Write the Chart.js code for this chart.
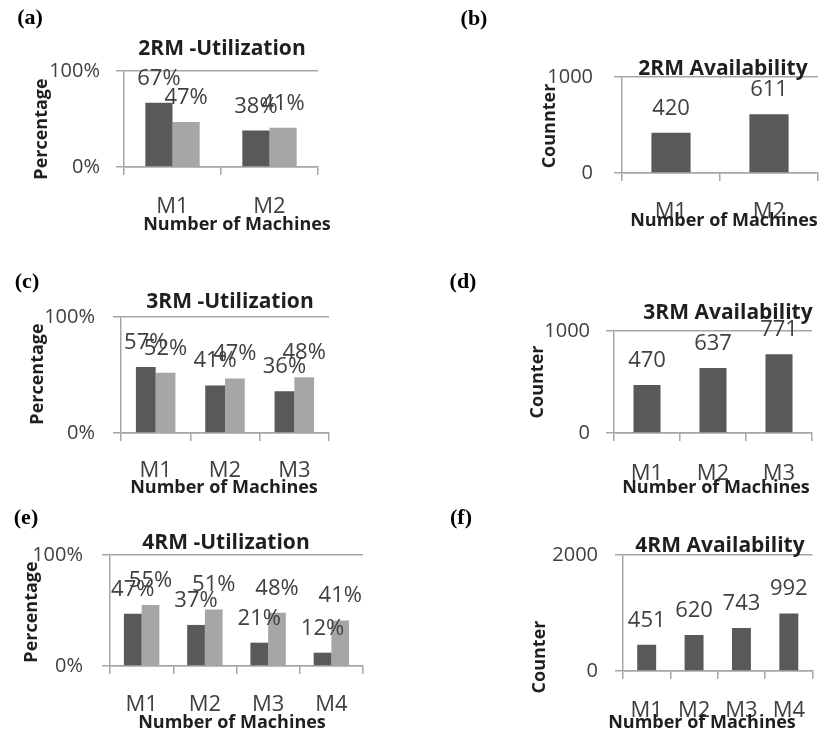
<!DOCTYPE html>
<html>
<head>
<meta charset="utf-8">
<script src="https://cdn.jsdelivr.net/npm/chart.js@4.4.1/dist/chart.umd.min.js"></script>
<style>
    body { margin: 0; background: #fff; }
    #wrap { position: relative; width: 824px; height: 734px; }
    #wrap canvas { position: absolute; left: 0; top: 0; }
</style>
</head>
<body>
<div id="wrap">
    <canvas id="chart-a" width="824" height="734"></canvas>
    <canvas id="chart-b" width="824" height="734"></canvas>
    <canvas id="chart-c" width="824" height="734"></canvas>
    <canvas id="chart-d" width="824" height="734"></canvas>
    <canvas id="chart-e" width="824" height="734"></canvas>
    <canvas id="chart-f" width="824" height="734"></canvas>
</div>
<script>
// Categories
const machines2 = ['M1', 'M2'];
const machines3 = ['M1', 'M2', 'M3'];
const machines4 = ['M1', 'M2', 'M3', 'M4'];

// Utilization (%) - dark and light series
const util2Dark = [67, 38];
const util2Light = [47, 41];
const util3Dark = [57, 41, 36];
const util3Light = [52, 47, 48];
const util4Dark = [47, 37, 21, 12];
const util4Light = [55, 51, 48, 41];

// Availability counters
const avail2 = [420, 611];
const avail3 = [470, 637, 771];
const avail4 = [451, 620, 743, 992];

// Y axis tick ranges
const pctMax = 100;
const avail2Max = 1000;
const avail3Max = 1000;
const avail4Max = 2000;

const W = 824, H = 734;
const darkBar = '#595959';
const lightBar = '#a6a6a6';
const axisColor = '#a6a6a6';
const textGray = '#404040';
const textDark = '#1f1f1f';
const sans = "'Open Sans', sans-serif";

// Panel text: tag, title, axis titles
const panelText = {
    id: 'panelText',
    afterDraw(chart) {
        const p = chart.options.plugins.panelText;
        const ctx = chart.ctx;
        ctx.save();
        ctx.textAlign = 'center';
        ctx.textBaseline = 'middle';

        ctx.fillStyle = '#000';
        ctx.font = "bold 22px 'Liberation Serif', serif";
        ctx.fillText(p.tag, p.tagPos[0], p.tagPos[1]);

        ctx.fillStyle = textDark;
        ctx.font = 'bold 21px ' + sans;
        ctx.fillText(p.title, p.titlePos[0], p.titlePos[1]);

        ctx.font = 'bold 18px ' + sans;
        ctx.fillText('Number of Machines', p.xTitlePos[0], p.xTitlePos[1]);

        ctx.translate(p.yTitlePos[0], p.yTitlePos[1]);
        ctx.rotate(-Math.PI / 2);
        ctx.fillText(p.yTitle, 0, 0);
        ctx.restore();
    }
};

// Value labels above every bar
const barLabels = {
    id: 'barLabels',
    afterDatasetsDraw(chart) {
        const p = chart.options.plugins.barLabels;
        const ctx = chart.ctx;
        ctx.save();
        ctx.fillStyle = textGray;
        ctx.font = '22px ' + sans;
        ctx.textAlign = 'center';
        ctx.textBaseline = 'alphabetic';
        chart.data.datasets.forEach((ds, i) => {
            chart.getDatasetMeta(i).data.forEach((bar, j) => {
                ctx.fillText(ds.data[j] + p.suffix, bar.x, bar.y - 18);
            });
        });
        ctx.restore();
    }
};

function makePanel(cfg) {
    const a = cfg.area;
    const colors = cfg.series.length > 1 ? [darkBar, lightBar] : [darkBar];
    return new Chart(document.getElementById(cfg.id), {
        type: 'bar',
        data: {
            labels: cfg.labels,
            datasets: cfg.series.map((s, i) => ({
                data: s,
                backgroundColor: colors[i],
                borderWidth: 0,
                barPercentage: 1,
                categoryPercentage: cfg.catPct
            }))
        },
        options: {
            responsive: false,
            animation: false,
            events: [],
            layout: {
                padding: { left: 0, top: a.top, right: W - a.right, bottom: 0 }
            },
            plugins: {
                legend: { display: false },
                tooltip: { enabled: false },
                panelText: cfg.text,
                barLabels: { suffix: cfg.suffix }
            },
            scales: {
                x: {
                    // scale box fills the space under the plot so labels are not clipped
                    afterFit: (scale) => { scale.height = H - a.bottom; },
                    grid: {
                        drawOnChartArea: false,
                        tickLength: 8,
                        color: axisColor,
                        lineWidth: 1.5
                    },
                    border: { color: axisColor, width: 1.5 },
                    ticks: {
                        color: textGray,
                        padding: cfg.xGap - 18,
                        font: { size: 22, family: sans }
                    }
                },
                y: {
                    min: 0,
                    max: cfg.max,
                    afterFit: (scale) => { scale.width = a.left; },
                    grid: {
                        tickLength: 8,
                        color: axisColor,
                        lineWidth: 1.5
                    },
                    border: { color: axisColor, width: 1.5 },
                    ticks: {
                        stepSize: cfg.max,
                        color: textGray,
                        padding: cfg.yGap - 8,
                        font: { size: 20, family: sans },
                        callback: (v) => v + cfg.suffix
                    }
                }
            }
        },
        plugins: [panelText, barLabels]
    });
}

makePanel({
    id: 'chart-a', labels: machines2, series: [util2Dark, util2Light], max: pctMax, suffix: '%',
    catPct: 0.56, area: { left: 124, top: 71, right: 318, bottom: 167 }, yGap: 24, xGap: 37,
    text: { tag: '(a)', tagPos: [30, 18], title: '2RM -Utilization', titlePos: [222, 49],
            xTitlePos: [237, 225], yTitle: 'Percentage', yTitlePos: [42, 129] }
});
makePanel({
    id: 'chart-b', labels: machines2, series: [avail2], max: avail2Max, suffix: '',
    catPct: 0.4, area: { left: 622, top: 77, right: 818, bottom: 173 }, yGap: 29, xGap: 36,
    text: { tag: '(b)', tagPos: [474, 19], title: '2RM Availability', titlePos: [723, 69],
            xTitlePos: [724, 221], yTitle: 'Counnter', yTitlePos: [550, 126] }
});
makePanel({
    id: 'chart-c', labels: machines3, series: [util3Dark, util3Light], max: pctMax, suffix: '%',
    catPct: 0.57, area: { left: 121, top: 317, right: 329, bottom: 433 }, yGap: 26, xGap: 35,
    text: { tag: '(c)', tagPos: [27, 282], title: '3RM -Utilization', titlePos: [230, 302],
            xTitlePos: [224, 488], yTitle: 'Percentage', yTitlePos: [38, 374] }
});
makePanel({
    id: 'chart-d', labels: machines3, series: [avail3], max: avail3Max, suffix: '',
    catPct: 0.41, area: { left: 614, top: 331, right: 812, bottom: 433 }, yGap: 24, xGap: 38,
    text: { tag: '(d)', tagPos: [463, 282], title: '3RM Availability', titlePos: [728, 313],
            xTitlePos: [716, 488], yTitle: 'Counter', yTitlePos: [538, 382] }
});
makePanel({
    id: 'chart-e', labels: machines4, series: [util4Dark, util4Light], max: pctMax, suffix: '%',
    catPct: 0.56, area: { left: 110, top: 555, right: 363, bottom: 666 }, yGap: 27, xGap: 36,
    text: { tag: '(e)', tagPos: [26, 518], title: '4RM -Utilization', titlePos: [226, 543],
            xTitlePos: [232, 723], yTitle: 'Percentage', yTitlePos: [32, 612] }
});
makePanel({
    id: 'chart-f', labels: machines4, series: [avail4], max: avail4Max, suffix: '',
    catPct: 0.4, area: { left: 623, top: 555, right: 824, bottom: 671 }, yGap: 25, xGap: 37,
    text: { tag: '(f)', tagPos: [461, 518], title: '4RM Availability', titlePos: [720, 546],
            xTitlePos: [702, 723], yTitle: 'Counter', yTitlePos: [540, 657] }
});
</script>
</body>
</html>
